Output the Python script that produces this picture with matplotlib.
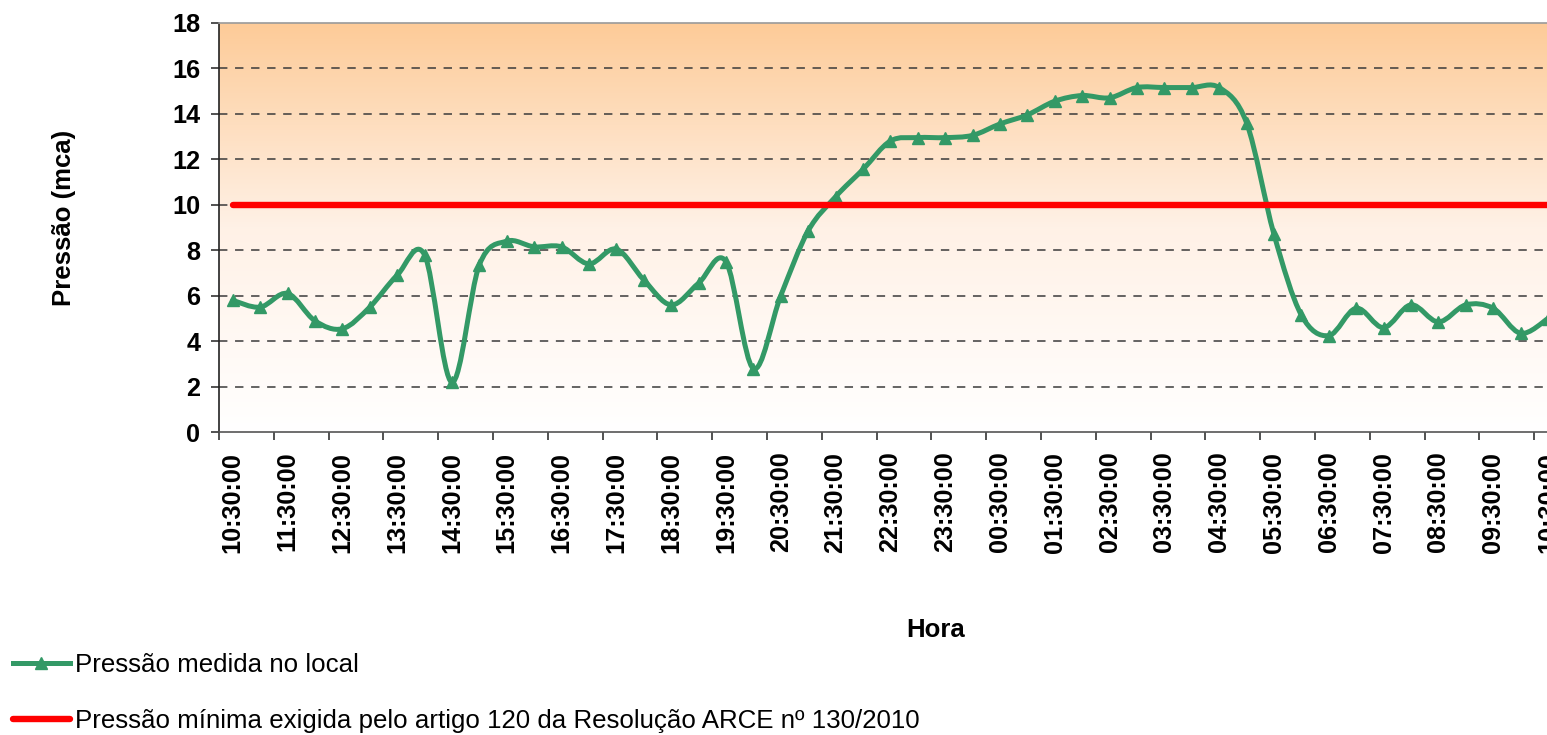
import numpy as np
import matplotlib
matplotlib.use("Agg")
import matplotlib.pyplot as plt
from matplotlib.path import Path
from matplotlib.patches import PathPatch
from matplotlib.lines import Line2D
from matplotlib.colors import LinearSegmentedColormap

plt.rcParams['font.family'] = ['Liberation Sans', 'DejaVu Sans']

# ---- data (one value every 30 minutes, 10:30 -> 10:30 next day) ----
categorias = [
    "10:30", "11:00", "11:30", "12:00", "12:30", "13:00", "13:30", "14:00",
    "14:30", "15:00", "15:30", "16:00", "16:30", "17:00", "17:30", "18:00",
    "18:30", "19:00", "19:30", "20:00", "20:30", "21:00", "21:30", "22:00",
    "22:30", "23:00", "23:30", "00:00", "00:30", "01:00", "01:30", "02:00",
    "02:30", "03:00", "03:30", "04:00", "04:30", "05:00", "05:30", "06:00",
    "06:30", "07:00", "07:30", "08:00", "08:30", "09:00", "09:30", "10:00",
    "10:30",
]
pressao_medida = [
    5.8, 5.5, 6.1, 4.9, 4.55, 5.5, 6.9, 7.8,
    2.2, 7.35, 8.4, 8.15, 8.15, 7.4, 8.05, 6.7,
    5.6, 6.55, 7.5, 2.8, 6.0, 8.85, 10.35, 11.55,
    12.8, 12.95, 12.95, 13.05, 13.55, 13.95, 14.55, 14.8,
    14.7, 15.15, 15.15, 15.15, 15.15, 13.6, 8.7, 5.15,
    4.25, 5.45, 4.6, 5.6, 4.85, 5.6, 5.45, 4.35,
    5.0,
]
pressao_minima = 10.0
rotulos_x = [
    "10:30:00", "11:30:00", "12:30:00", "13:30:00", "14:30:00", "15:30:00",
    "16:30:00", "17:30:00", "18:30:00", "19:30:00", "20:30:00", "21:30:00",
    "22:30:00", "23:30:00", "00:30:00", "01:30:00", "02:30:00", "03:30:00",
    "04:30:00", "05:30:00", "06:30:00", "07:30:00", "08:30:00", "09:30:00",
    "10:30:00",
]
rotulos_y = [0, 2, 4, 6, 8, 10, 12, 14, 16, 18]

serie1 = "Pressão medida no local"
serie2 = "Pressão mínima exigida pelo artigo 120 da Resolução ARCE nº 130/2010"

# ---- styles ----
VERDE = "#339966"
VERMELHO = "#FF0000"
W, H = 1547, 735

fig = plt.figure(figsize=(W / 100, H / 100), dpi=100)
left, top, bottom, right = 219, 22.7, 432.3, 1561.7
ax = fig.add_axes([left / W, 1 - bottom / H, (right - left) / W, (bottom - top) / H])

n = len(categorias)
x = np.arange(n, dtype=float)
y = np.array(pressao_medida, dtype=float)

ax.set_xlim(-0.5, n - 0.5)
ax.set_ylim(0, 18)

# background gradient (orange at top -> white at bottom)
cmap = LinearSegmentedColormap.from_list("bg", ["#FFFFFF", "#FFF1E6", "#FDCB98"])
grad = np.linspace(0, 1, 256).reshape(-1, 1)
ax.imshow(grad, extent=[-0.5, n - 0.5, 0, 18], origin="lower", aspect="auto",
          cmap=cmap, zorder=0, interpolation="bicubic")

# gridlines
for v in rotulos_y[1:-1]:
    ax.axhline(v, color="#3a3a3a", lw=1.1, ls=(0, (5.5, 5)), zorder=1)

# smoothed measured line (Excel-like Catmull-Rom Bezier)
pts = np.column_stack([x, y])
verts = [tuple(pts[0])]
codes = [Path.MOVETO]
for i in range(n - 1):
    p_prev = pts[i - 1] if i > 0 else pts[i]
    p0 = pts[i]
    p1 = pts[i + 1]
    p_next = pts[i + 2] if i + 2 < n else pts[i + 1]
    c1 = p0 + (p1 - p_prev) / 6.0
    c2 = p1 - (p_next - p0) / 6.0
    verts += [tuple(c1), tuple(c2), tuple(p1)]
    codes += [Path.CURVE4] * 3
ax.add_patch(PathPatch(Path(verts, codes), fill=False, edgecolor=VERDE, lw=3.6,
                       capstyle="round", joinstyle="round", zorder=3))
ax.plot(x, y, ls="none", marker="^", ms=9, color=VERDE, zorder=4)

# minimum pressure line
ax.plot(x, [pressao_minima] * n, color=VERMELHO, lw=4.6,
        solid_capstyle="round", zorder=5)

# axes spines
for s in ("top", "right"):
    ax.spines[s].set_color("#9a9a9a")
    ax.spines[s].set_linewidth(1.2)
ax.spines["left"].set_color("#222222")
ax.spines["left"].set_linewidth(1.2)
ax.spines["bottom"].set_color("#555555")
ax.spines["bottom"].set_linewidth(1.2)

# x ticks: marks between category pairs, labels on every other category
ax.set_xticks(np.arange(-0.5, n - 0.4, 2))
ax.tick_params(axis="x", which="major", labelbottom=False, length=6,
               width=1.1, color="#222222", direction="out")
ax.set_xticks(x[::2], minor=True)
ax.set_xticklabels(rotulos_x, minor=True, rotation=90, fontsize=18.2,
                   fontweight="bold")
ax.tick_params(axis="x", which="minor", length=0, pad=14)

ax.set_yticks(rotulos_y)
ax.set_yticklabels([str(v) for v in rotulos_y], fontsize=18.2, fontweight="bold")
ax.tick_params(axis="y", length=6, width=1.1, color="#222222", pad=7.5)

fig.text(64 / W, 1 - 218 / H, "Pressão (mca)", rotation=90, ha="center",
         va="center", fontsize=18.5, fontweight="bold")
fig.text(936 / W, 1 - 630 / H, "Hora", ha="center", va="center",
         fontsize=18.5, fontweight="bold")

handles = [
    Line2D([], [], color=VERDE, lw=3.6, marker="^", ms=9),
    Line2D([], [], color=VERMELHO, lw=4.6, solid_capstyle="round"),
]
fig.legend(handles, [serie1, serie2], loc="upper left",
           bbox_to_anchor=(13 / W, 1 - 653 / H), frameon=False, fontsize=18.6,
           borderpad=0, borderaxespad=0, handlelength=2.2, handletextpad=0.2,
           labelspacing=1.24, numpoints=1)

fig.savefig("out.png", dpi=100)
